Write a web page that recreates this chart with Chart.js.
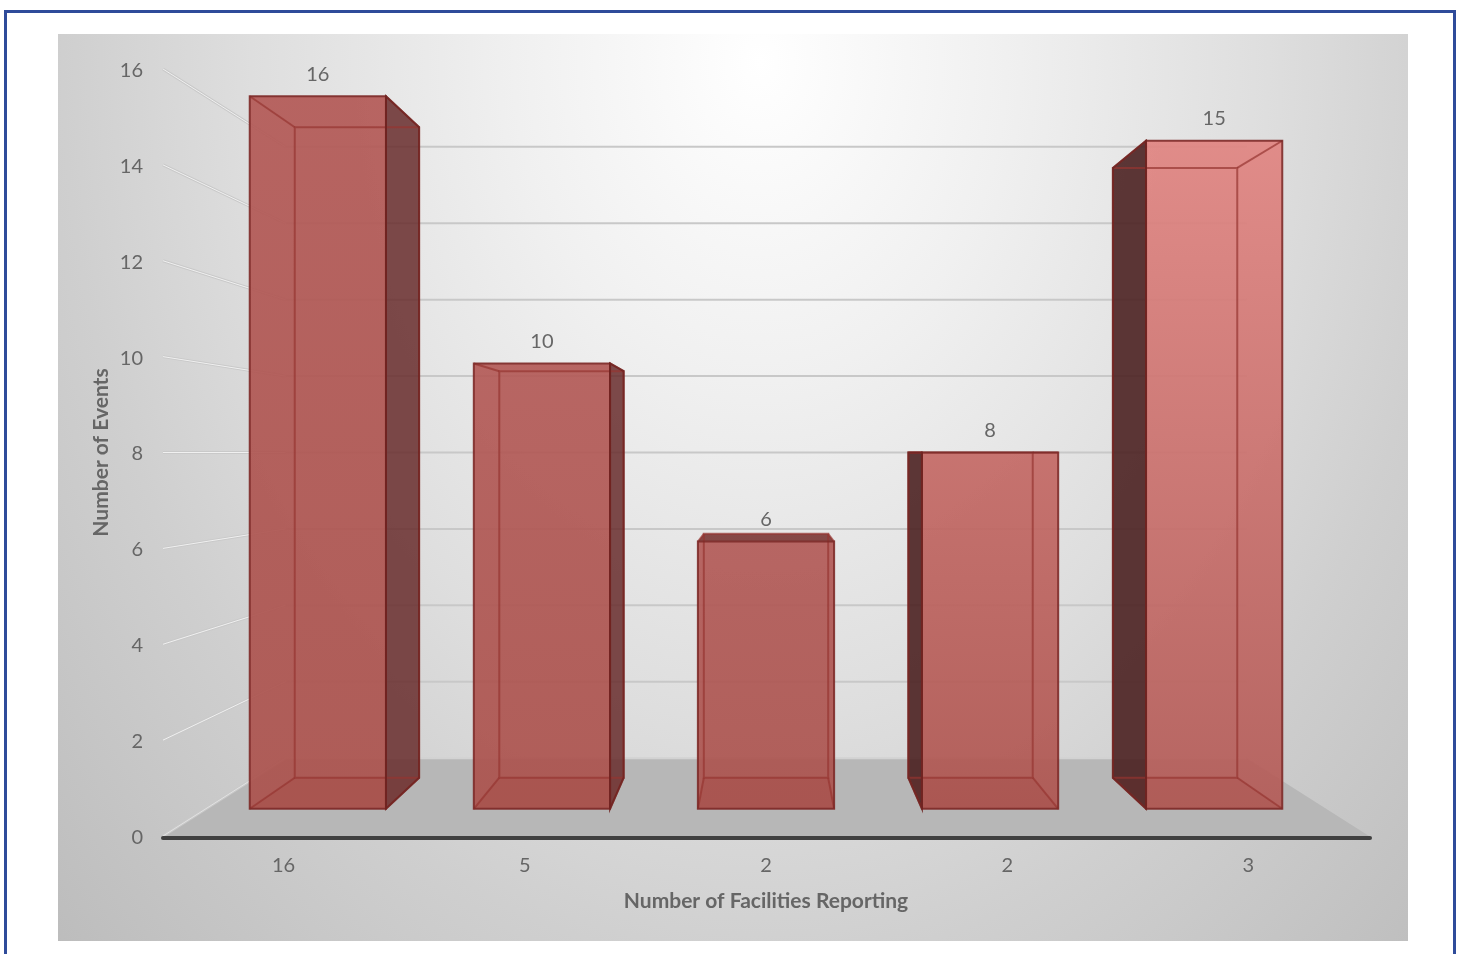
<!DOCTYPE html>
<html>
<head>
<meta charset="utf-8">
<title>Number of Events by Facilities Reporting</title>
<script src="https://cdn.jsdelivr.net/npm/chart.js@4"></script>
<style>
  html, body { margin: 0; padding: 0; background: #fff; overflow: hidden; }
  #frame { position: absolute; left: 4px; top: 10px; width: 1452px; height: 960px; border: 3px solid #2f4b9a; box-sizing: border-box; }
  #panel { position: absolute; left: 58px; top: 34px; width: 1350px; height: 907px;
    background: radial-gradient(ellipse 820px 1066px at 52% 3%, #ffffff 0%, #f0f0f0 30%, #dedede 62%, #cfcfcf 85%, #bcbcbc 120%); }
  #chart { position: absolute; left: 0; top: 0; }
</style>
</head>
<body>
<div id="frame"></div>
<div id="panel"></div>
<canvas id="chart" width="1463" height="954"></canvas>
<script>
const facilityLabels = ['16', '5', '2', '2', '3'];
const eventCounts = [16, 10, 6, 8, 15];
const yAxisMax = 16;
const yAxisStep = 2;

// depth planes of the fake 3D box, as scale about the vanishing point
const frontPlane = 0.929;
const backPlane = 0.848;
const wallPlane = 0.797;
const eyeValue = 8;

const frontTopColors = ['#b35a57', '#b35b58', '#b25b58', '#c46a66', '#e08582'];
const frontBottomColors = ['#ab534e', '#ab534e', '#ab544f', '#ae5651', '#b35c58'];

const fontName = 'Lato, "Open Sans", sans-serif';
const textColor = '#666666';

function poly(ctx, pts) {
  ctx.beginPath();
  ctx.moveTo(pts[0][0], pts[0][1]);
  for (let i = 1; i < pts.length; i++) ctx.lineTo(pts[i][0], pts[i][1]);
  ctx.closePath();
}

function line(ctx, a, b) {
  ctx.beginPath();
  ctx.moveTo(a[0], a[1]);
  ctx.lineTo(b[0], b[1]);
  ctx.stroke();
}

const perspective = {
  id: 'perspective',
  beforeDatasetsDraw(chart) {
    const { ctx, chartArea: { left, right, bottom }, scales: { x, y } } = chart;
    const vx = (left + right) / 2;
    const vy = y.getPixelForValue(eyeValue);
    const at = (px, py, s) => [vx + (px - vx) * s, vy + (py - vy) * s];
    ctx.save();

    // floor
    poly(ctx, [[left, bottom], [right, bottom], at(right, bottom, wallPlane), at(left, bottom, wallPlane)]);
    ctx.fillStyle = '#b7b7b7';
    ctx.fill();

    // wall lines
    y.ticks.forEach(t => {
      const py = y.getPixelForValue(t.value);
      const a = at(left, py, wallPlane);
      const b = at(right, py, wallPlane);
      ctx.strokeStyle = '#c9c9c9';
      ctx.lineWidth = 3;
      line(ctx, [left, py], a);
      ctx.strokeStyle = t.value > 0 ? '#f0f0f0' : '#e2e2e2';
      ctx.lineWidth = 1;
      line(ctx, [left, py], a);
      ctx.strokeStyle = t.value > 0 ? '#c8c8c8' : '#d2d2d2';
      ctx.lineWidth = 2;
      line(ctx, a, b);
    });

    // x axis line
    ctx.strokeStyle = '#404040';
    ctx.lineWidth = 4;
    ctx.lineCap = 'round';
    line(ctx, [left, bottom + 2], [right + 1, bottom + 2]);
    ctx.lineCap = 'butt';

    // boxes
    chart.getDatasetMeta(0).data.forEach((bar, i) => {
      const x0 = bar.x - bar.width / 2;
      const x1 = bar.x + bar.width / 2;
      const top = bar.y;
      const base = bar.base;
      const fTL = at(x0, top, frontPlane), fTR = at(x1, top, frontPlane);
      const fBL = at(x0, base, frontPlane), fBR = at(x1, base, frontPlane);
      const bTL = at(x0, top, backPlane), bTR = at(x1, top, backPlane);
      const bBL = at(x0, base, backPlane), bBR = at(x1, base, backPlane);

      // side faces that stick out past the front
      if (bTR[0] > fTR[0]) {
        poly(ctx, [fTR, bTR, bBR, fBR]);
        ctx.fillStyle = 'rgba(105,45,45,0.86)';
        ctx.fill();
      }
      if (bTL[0] < fTL[0]) {
        poly(ctx, [fTL, bTL, bBL, fBL]);
        ctx.fillStyle = 'rgba(72,28,28,0.88)';
        ctx.fill();
      }
      // top face when seen from above
      if (bTL[1] < fTL[1]) {
        poly(ctx, [fTL, fTR, bTR, bTL]);
        ctx.fillStyle = 'rgba(120,50,48,0.88)';
        ctx.fill();
      }

      ctx.lineWidth = 2;
      ctx.lineJoin = 'miter';

      // front face
      const grad = ctx.createLinearGradient(0, fTL[1], 0, fBL[1]);
      grad.addColorStop(0, frontTopColors[i]);
      grad.addColorStop(1, frontBottomColors[i]);
      poly(ctx, [fTL, fTR, fBR, fBL]);
      ctx.globalAlpha = 0.93;
      ctx.fillStyle = grad;
      ctx.fill();
      ctx.globalAlpha = 1;

      // floor of the box shows through the front
      poly(ctx, [fBL, fBR, bBR, bBL]);
      ctx.fillStyle = 'rgba(150,50,45,0.12)';
      ctx.fill();

      // back edges and the lines joining them to the front
      ctx.strokeStyle = 'rgba(150,52,48,0.7)';
      poly(ctx, [bTL, bTR, bBR, bBL]);
      ctx.stroke();
      line(ctx, fTL, bTL);
      line(ctx, fTR, bTR);
      line(ctx, fBL, bBL);
      line(ctx, fBR, bBR);

      ctx.strokeStyle = 'rgba(125,42,40,0.9)';
      poly(ctx, [fTL, fTR, fBR, fBL]);
      ctx.stroke();
      if (bTR[0] > fTR[0] || bTL[0] < fTL[0]) {
        ctx.strokeStyle = 'rgba(110,34,32,0.85)';
        if (bTR[0] > fTR[0]) poly(ctx, [fTR, bTR, bBR, fBR]);
        else poly(ctx, [fTL, bTL, bBL, fBL]);
        ctx.stroke();
      }

      // value label sits above the front top edge
      ctx.fillStyle = textColor;
      ctx.font = '20px ' + fontName;
      ctx.textAlign = 'center';
      ctx.textBaseline = 'middle';
      ctx.fillText(String(eventCounts[i]), fTL[0] / 2 + fTR[0] / 2, fTL[1] - 22);
    });
    ctx.restore();
  }
};

new Chart(document.getElementById('chart'), {
  type: 'bar',
  data: {
    labels: facilityLabels,
    datasets: [{
      data: eventCounts,
      backgroundColor: 'transparent',
      borderWidth: 0,
      barPercentage: 0.608,
      categoryPercentage: 1
    }]
  },
  options: {
    responsive: false,
    animation: false,
    layout: { padding: { top: 69, left: 0, right: 94, bottom: 0 } },
    plugins: { legend: { display: false }, tooltip: { enabled: false } },
    scales: {
      x: {
        afterFit(scale) { scale.height = 118; },
        grid: { display: false, drawTicks: false },
        border: { display: false },
        ticks: { color: textColor, font: { family: fontName, size: 20 }, padding: 18, maxRotation: 0 },
        title: {
          display: true,
          text: 'Number of Facilities Reporting',
          color: textColor,
          font: { family: fontName, size: 21, weight: 'bold' },
          padding: { top: 0, bottom: 40 }
        }
      },
      y: {
        min: 0,
        max: yAxisMax,
        afterFit(scale) { scale.width = 163; },
        grid: { display: false, drawTicks: false },
        border: { display: false },
        ticks: { stepSize: yAxisStep, color: textColor, font: { family: fontName, size: 20 }, padding: 20, labelOffset: 1.5 },
        title: {
          display: true,
          text: 'Number of Events',
          color: textColor,
          font: { family: fontName, size: 21, weight: 'bold' },
          padding: { top: 89, bottom: 0 }
        }
      }
    }
  },
  plugins: [perspective]
});
</script>
</body>
</html>
